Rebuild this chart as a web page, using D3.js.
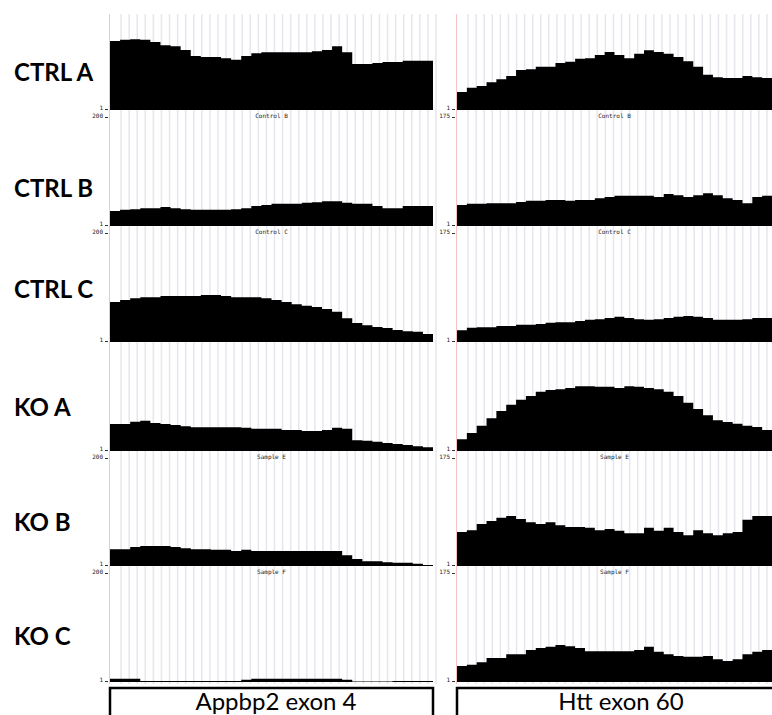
<!DOCTYPE html>
<html lang="en">
<head>
    <meta charset="UTF-8">
    <script src="https://d3js.org/d3.v7.min.js"></script>
    <title>Coverage</title>
    <style>
        body { margin: 0; background: #fff; }
        svg { display: block; }
    </style>
</head>
<body>
    <div id="chart"></div>
    <script>

        // sample names down the left, titles printed in the label row above each track
        const samples = ["CTRL A", "CTRL B", "CTRL C", "KO A", "KO B", "KO C"];
        const trackTitles = [null, "Control B", "Control C", null, "Sample E", "Sample F"];

        // the two exons and their y-axis maximum
        const exons = ["Appbp2 exon 4", "Htt exon 60"];
        const exonMax = [200, 175];

        // coverage per bin (32 bins across each exon)
        const appbp2CtrlA = [128,130,131,130,126,120,118,111,100,98,98,96,93,100,105,107,107,107,107,107,109,111,118,107,85,85,87,89,89,91,91,91];
        const appbp2CtrlB = [28,30,31,33,33,35,33,31,30,30,30,30,31,33,37,39,41,41,41,43,44,46,46,43,41,41,37,33,33,37,37,37];
        const appbp2CtrlC = [74,78,81,83,83,85,85,85,85,87,87,85,83,83,83,81,78,74,70,67,65,61,56,44,35,31,28,26,22,20,19,15];
        const appbp2KoA = [50,50,54,56,52,50,48,46,44,44,44,44,44,43,41,41,41,39,39,37,37,39,43,41,20,19,17,15,13,11,9,7];
        const appbp2KoB = [31,31,35,37,37,37,35,33,31,31,30,30,28,30,28,28,28,28,28,28,28,28,28,20,13,9,9,7,6,6,4,2];
        const appbp2KoC = [6,6,6,2,2,2,2,2,2,2,2,2,2,4,6,6,6,6,6,6,6,6,6,4,1,1,1,1,2,2,2,2];

        const httCtrlA = [29,36,39,45,50,55,65,66,70,70,76,78,83,84,89,94,89,84,91,97,94,91,86,79,70,57,53,52,52,55,53,52];
        const httCtrlB = [34,36,36,37,37,37,39,41,41,42,42,41,42,42,45,47,49,49,49,49,47,52,50,47,50,53,50,45,42,37,47,49];
        const httCtrlC = [19,23,24,24,26,26,28,28,29,31,32,32,34,36,37,39,41,39,37,36,37,39,41,42,41,39,36,36,36,37,39,39];
        const httKoA = [19,29,41,53,65,75,83,89,96,99,100,102,105,105,104,104,102,105,104,102,100,96,89,78,68,58,50,47,44,41,39,34];
        const httKoB = [55,58,68,73,78,81,76,71,68,71,66,63,63,62,58,60,57,53,53,62,57,62,55,50,58,53,50,53,55,75,81,81];
        const httKoC = [26,28,32,39,39,45,45,52,55,57,60,58,55,50,50,50,50,50,52,57,49,45,42,41,41,42,37,34,37,45,49,52];

        const coverage = [
            [appbp2CtrlA, appbp2CtrlB, appbp2CtrlC, appbp2KoA, appbp2KoB, appbp2KoC],
            [httCtrlA, httCtrlB, httCtrlC, httKoA, httKoB, httKoC]
        ];

        var width = 772;
        var height = 715;

        var svg = d3.select("#chart")
            .append("svg")
            .attr("width", width)
            .attr("height", height);

        // panel extents and track baselines (a track without a title row is shorter)
        var panels = [{x0: 110, x1: 433}, {x0: 457, x1: 772}];
        var trackH = 108;
        var baselines = [];
        var b = 110;
        trackTitles.forEach(function(t, i) {
            if (i > 0) b += (t ? 116 : 109) - (i == 4 ? 1 : 0);
            baselines.push(b);
        });
        var gridTop = 14, gridBottom = 684;

        panels.forEach(function(p, pi) {
            var nBins = coverage[pi][0].length;
            var x = d3.scaleLinear().domain([0, nBins]).range([p.x0, p.x1]);
            var g = svg.append("g");

            // light vertical grid lines every ~8px
            var nGrid = Math.round((p.x1 - p.x0) / 8);
            var gx = d3.scaleLinear().domain([0, nGrid]).range([p.x0, p.x1]);
            g.selectAll(".grid")
             .data(d3.range(1, nGrid + 1))
             .enter().append("line")
             .attr("x1", function(d) { return gx(d) + 3; })
             .attr("x2", function(d) { return gx(d) + 3; })
             .attr("y1", gridTop)
             .attr("y2", gridBottom)
             .attr("stroke", "#e6e6ee")
             .attr("stroke-width", 1.5);

            g.append("line")
             .attr("x1", p.x0 - 0.5).attr("x2", p.x0 - 0.5)
             .attr("y1", gridTop).attr("y2", gridBottom)
             .attr("stroke", "#f3c4c4")
             .attr("stroke-width", 1);

            coverage[pi].forEach(function(vals, ti) {
                var base = baselines[ti];
                var y = d3.scaleLinear().domain([0, exonMax[pi]]).range([base, base - trackH]);
                var pts = vals.map(function(v, i) { return [i, v]; });
                pts.push([nBins, vals[nBins - 1]]);

                var area = d3.area()
                    .curve(d3.curveStepAfter)
                    .x(function(d) { return x(d[0]); })
                    .y0(base)
                    .y1(function(d) { return y(d[1]); });

                g.append("path")
                 .datum(pts)
                 .attr("d", area)
                 .attr("fill", "#000");

                // "1" at the baseline
                g.append("text")
                 .attr("x", p.x0 - 7)
                 .attr("y", base)
                 .attr("text-anchor", "end")
                 .attr("font-family", "DejaVu Sans Mono")
                 .attr("font-size", "6px")
                 .attr("fill", "#222")
                 .text("1");
                g.append("line")
                 .attr("x1", p.x0 - 5).attr("x2", p.x0 - 2)
                 .attr("y1", base - 0.5).attr("y2", base - 0.5)
                 .attr("stroke", "#000").attr("stroke-width", 0.8);

                // title row of the next track
                var title = trackTitles[ti + 1];
                if (title) {
                    g.append("text")
                     .attr("x", p.x0 - 7)
                     .attr("y", base + 8)
                     .attr("text-anchor", "end")
                     .attr("font-family", "DejaVu Sans Mono")
                     .attr("font-size", "6px")
                     .attr("fill", "#222")
                     .text(exonMax[pi]);
                    g.append("line")
                     .attr("x1", p.x0 - 5).attr("x2", p.x0 - 2)
                     .attr("y1", base + 7.5).attr("y2", base + 7.5)
                     .attr("stroke", "#000").attr("stroke-width", 0.8);
                    g.append("text")
                     .attr("x", (p.x0 + p.x1) / 2)
                     .attr("y", base + 8)
                     .attr("text-anchor", "middle")
                     .attr("font-family", "DejaVu Sans Mono")
                     .attr("font-size", "6px")
                     .attr("fill", "#222")
                     .text(title);
                }
            });

            // exon name box at the bottom
            svg.append("rect")
               .attr("x", p.x0)
               .attr("y", 688)
               .attr("width", p.x1 - p.x0 + (pi == 1 ? 30 : 0))
               .attr("height", 60)
               .attr("fill", "none")
               .attr("stroke", "#000")
               .attr("stroke-width", 2.5);
            svg.append("text")
               .attr("x", pi == 0 ? 276 : 621)
               .attr("y", 710)
               .attr("text-anchor", "middle")
               .attr("font-family", "Lato, sans-serif")
               .attr("font-size", "24px")
               .text(exons[pi]);
        });

        // sample labels on the left
        var labelY = [72, 188, 289, 407, 522, 636];
        svg.selectAll(".sample")
           .data(samples)
           .enter().append("text")
           .attr("x", 14)
           .attr("y", function(d, i) { return labelY[i] + 9; })
           .attr("font-family", "Lato, sans-serif")
           .attr("font-weight", "700")
           .attr("font-size", "24px")
           .text(function(d) { return d; });
    </script>
</body>
</html>
